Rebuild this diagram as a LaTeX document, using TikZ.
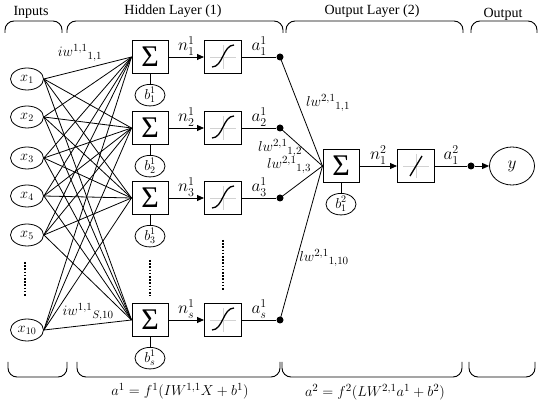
\documentclass[tikz,border=0pt]{standalone}
\usepackage{fontspec}
\setmainfont{Liberation Serif}
\usepackage{tikz}
\usetikzlibrary{arrows.meta}
\usetikzlibrary{calc}
\usetikzlibrary{positioning}
\usetikzlibrary{shapes.geometric}
\colorlet{glyphgrid}{gray!35}

\tikzset{
    sumbox/.style={draw, line width=1pt, minimum width=36pt, minimum height=33pt, inner sep=0pt, font=\fontsize{30}{30}\selectfont},
    actbox/.style={draw, line width=1pt, minimum width=37pt, minimum height=33pt, inner sep=0pt},
    invar/.style={draw, ellipse, line width=0.8pt, minimum width=33pt, minimum height=22pt, inner sep=0pt, font=\fontsize{14}{16}\selectfont},
    biasvar/.style={draw, ellipse, line width=0.8pt, minimum width=30pt, minimum height=19pt, inner sep=0pt, font=\fontsize{14}{16}\selectfont},
    joint/.style={circle, fill, inner sep=0pt, minimum size=7pt},
    wire/.style={line width=0.8pt},
    flow/.style={line width=0.9pt, -{Triangle[length=7pt,width=6pt]}},
    lbl/.style={font=\fontsize{17}{19}\selectfont, inner sep=1.5pt},
    wlbl/.style={font=\fontsize{15.5}{17}\selectfont, inner sep=1pt},
    head/.style={font=\fontsize{14}{16}\selectfont, inner sep=1pt},
    bracket/.style={line width=0.9pt, rounded corners=9pt},
    vdots/.style={line width=2.2pt, dash pattern=on 1.6pt off 1.6pt},
    sigmoid/.pic={
        \draw[glyphgrid, line width=0.8pt] (-13,0) -- (13,0) (0,-12) -- (0,12);
        \draw[line width=1.3pt] (-11,10) .. controls (0,10) and (0,-12) .. (11,-12);
    },
    linear/.pic={
        \draw[glyphgrid, line width=0.8pt] (-13,0) -- (13,0) (0,-12) -- (0,12);
        \draw[line width=1.3pt] (-6,10) -- (6,-10);
    }
}

\begin{document}
\begin{tikzpicture}[x=1pt, y=-1pt]
    \useasboundingbox (0,0) rectangle (550,406);
    % inputs
    \foreach \i/\y in {1/79, 2/117, 3/158, 4/196, 5/235, 10/330}
    {
        \node[invar] (x\i) at (27,\y) {$x_{\i}$};
    }
    % hidden layer neurons
    \foreach \j/\y in {1/57, 2/128, 3/198, s/320}
    {
        \node[sumbox] (s\j) at (150,\y) {Σ};
        \node[biasvar, below=10pt of s\j] (b\j) {$b^1_{\j}$};
        \node[actbox] (h\j) at (223,\y) {};
        \pic at (h\j) {sigmoid};
        \node[joint] (d\j) at (280,\y) {};
    }
    % output layer neuron
    \node[sumbox] (o) at (341,166) {Σ};
    \node[biasvar, below=10pt of o] (bo) {$b^2_1$};
    \node[actbox] (ho) at (416,166) {};
    \pic at (ho) {linear};
    \node[joint] (dout) at (471,166) {};
    \node[draw, ellipse, line width=0.8pt, minimum width=45pt, minimum height=38pt, inner sep=0pt, font=\fontsize{18}{20}\selectfont] (y) at (512,166) {$y$};
    % input weights
    \foreach \i in {1,2,3,4,5,10}
    {
        \foreach \j in {1,2,3,s}
        {
            \draw[wire] (x\i.east) -- (s\j.west);
        }
    }
    % hidden rows
    \foreach \j in {1,2,3,s}
    {
        \draw[wire] (s\j) -- (b\j);
        \draw[flow] (s\j) -- (h\j) node[midway, above, lbl] (n\j) {$n^1_{\j}$};
        \draw[wire] (h\j) -- (d\j) node[midway, above, lbl] (a\j) {$a^1_{\j}$};
        \draw[wire] (d\j.center) -- (o.west);
    }
    % output row
    \draw[wire] (o) -- (bo);
    \draw[flow] (o) -- (ho) node[midway, above, lbl] (no) {$n^2_1$};
    \draw[wire] (ho) -- (dout) node[midway, above, lbl] (ao) {$a^2_1$};
    \draw[flow] (dout) -- (y);
    % weight labels
    \node[wlbl] (iw11) at (80,53) {${iw^{1,1}}_{1,1}$};
    \node[wlbl] (iws10) at (88,312) {${iw^{1,1}}_{S,10}$};
    \node[wlbl] (lw11) at (328,103) {${lw^{2,1}}_{1,1}$};
    \node[wlbl] (lw12) at (280,148) {${lw^{2,1}}_{1,2}$};
    \node[wlbl] (lw13) at (289,165) {${lw^{2,1}}_{1,3}$};
    \node[wlbl] (lw110) at (324,258) {${lw^{2,1}}_{1,10}$};
    % omitted rows
    \draw[vdots] (25,262) -- (25,297);
    \draw[vdots] (150,260) -- (150,296);
    \draw[vdots] (223,240) -- (223,290);
    % brackets
    \foreach \l/\r in {5/62, 67/283, 286/463, 471/537}
    {
        \draw[bracket] (\l,33) -- (\l,21) -- (\r,21) -- (\r,33);
    }
    \foreach \l/\r in {8/67, 77/280, 282/462, 469/535}
    {
        \draw[bracket] (\l,362) -- (\l,377) -- (\r,377) -- (\r,362);
    }
    % headings
    \node[head] (tin) at (31,12) {Inputs};
    \node[head] (thid) at (173,11) {Hidden Layer (1)};
    \node[head] (tol) at (372,11) {Output Layer (2)};
    \node[head] (tout) at (503,14) {Output};
    % transfer formulas
    \node[wlbl] (f1) at (180,391) {$a^1 = f^1(IW^{1,1}X + b^1)$};
    \node[wlbl] (f2) at (375,392) {$a^2 = f^2(LW^{2,1}a^1 + b^2)$};
\end{tikzpicture}
\end{document}
